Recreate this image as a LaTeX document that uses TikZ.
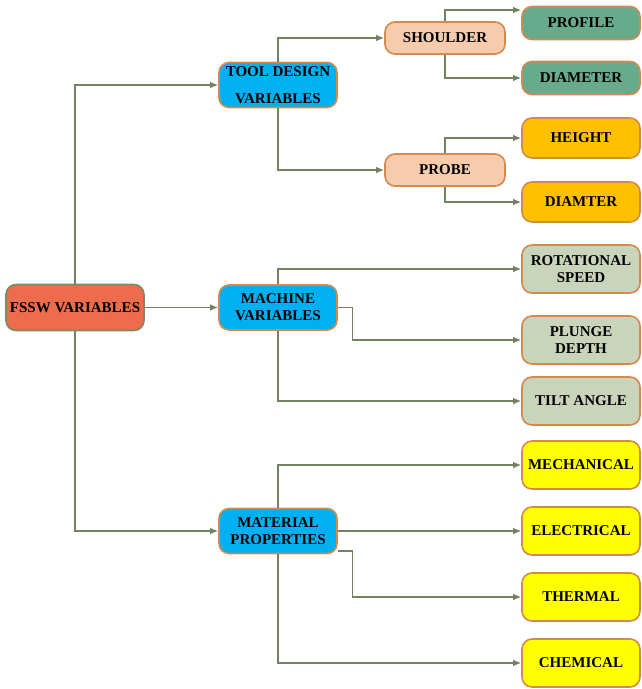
\documentclass[tikz,border=0pt]{standalone}
\usepackage{fontspec}
\setmainfont{Liberation Serif}
\usepackage{xcolor}
\usepackage{tikz}
\usetikzlibrary{arrows.meta}

\definecolor{rootred}{HTML}{EC6C4B}
\definecolor{rootline}{HTML}{7B8C64}
\definecolor{midblue}{HTML}{00B0F0}
\definecolor{peach}{HTML}{F8CBAD}
\definecolor{leafgreen}{HTML}{68AB8C}
\definecolor{leaforange}{HTML}{FFC000}
\definecolor{leafgrey}{HTML}{C9D4BA}
\definecolor{leafyellow}{HTML}{FFFF00}
\definecolor{edgeorange}{HTML}{D28A4E}
\definecolor{wire}{HTML}{6F8262}

\begin{document}
\begin{tikzpicture}[x=1pt, y=-1pt,
                    box/.style={draw=edgeorange, line width=1.6pt, rounded corners=10pt,
                                align=center, inner sep=0pt,
                                font=\fontsize{15}{17}\selectfont\bfseries},
                    rootbox/.style={box, draw=rootline, fill=rootred,
                                    minimum width=138pt, minimum height=46pt},
                    groupbox/.style={box, fill=midblue, minimum width=118pt, minimum height=45pt},
                    partbox/.style={box, fill=peach, minimum width=120pt, minimum height=32pt},
                    leafbox/.style={box, minimum width=118pt},
                    conn/.style={draw=wire, line width=1.3pt,
                                 -{Latex[length=8pt,width=6.5pt]}}]
  \useasboundingbox (0,0) rectangle (642,689);

  % root and groups
  \node[rootbox] (fssw) at (75,307.5) {FSSW VARIABLES};
  \node[groupbox] (tool) at (278,85) {TOOL DESIGN\\[10pt]VARIABLES};
  \node[groupbox] (machine) at (278,307.5) {MACHINE\\VARIABLES};
  \node[groupbox] (material) at (278,531) {MATERIAL\\PROPERTIES};

  % tool parts
  \node[partbox] (shoulder) at (445,38) {SHOULDER};
  \node[partbox] (probe) at (445,170) {PROBE};

  % leaves
  \node[leafbox, fill=leafgreen, minimum height=33pt] (profile) at (581,23) {PROFILE};
  \node[leafbox, fill=leafgreen, minimum height=33pt] (diameter) at (581,78) {DIAMETER};
  \node[leafbox, fill=leaforange, minimum height=40pt] (height) at (581,138) {HEIGHT};
  \node[leafbox, fill=leaforange, minimum height=40pt] (diamter) at (581,202) {DIAMTER};
  \node[leafbox, fill=leafgrey, minimum height=48pt] (rotational) at (581,269) {ROTATIONAL\\SPEED};
  \node[leafbox, fill=leafgrey, minimum height=48pt] (plunge) at (581,340) {PLUNGE\\DEPTH};
  \node[leafbox, fill=leafgrey, minimum height=48pt] (tilt) at (581,401) {TILT ANGLE};
  \node[leafbox, fill=leafyellow, minimum height=48pt] (mechanical) at (581,465) {MECHANICAL};
  \node[leafbox, fill=leafyellow, minimum height=48pt] (electrical) at (581,531) {ELECTRICAL};
  \node[leafbox, fill=leafyellow, minimum height=48pt] (thermal) at (581,597) {THERMAL};
  \node[leafbox, fill=leafyellow, minimum height=48pt] (chemical) at (581,663) {CHEMICAL};

  \coordinate (profile-in) at ([yshift=13pt]profile.west);

  % connectors
  \draw[conn] (fssw.north) |- (tool.west);
  \draw[conn] (fssw.east) -- (machine.west);
  \draw[conn] (fssw.south) |- (material.west);

  \draw[conn] (tool.north) |- (shoulder.west);
  \draw[conn] (tool.south) |- (probe.west);
  \draw[conn] (shoulder.north) |- (profile-in);
  \draw[conn] (shoulder.south) |- (diameter.west);
  \draw[conn] (probe.north) |- (height.west);
  \draw[conn] (probe.south) |- (diamter.west);

  \draw[conn] (machine.north) |- (rotational.west);
  \draw[conn] (machine.east) -- ++(15,0) |- (plunge.west);
  \draw[conn] (machine.south) |- (tilt.west);

  \draw[conn] (material.north) |- (mechanical.west);
  \draw[conn] (material.east) -- (electrical.west);
  \draw[conn] ([yshift=-20pt]material.east) -- ++(15,0) |- (thermal.west);
  \draw[conn] (material.south) |- (chemical.west);
\end{tikzpicture}
\end{document}
